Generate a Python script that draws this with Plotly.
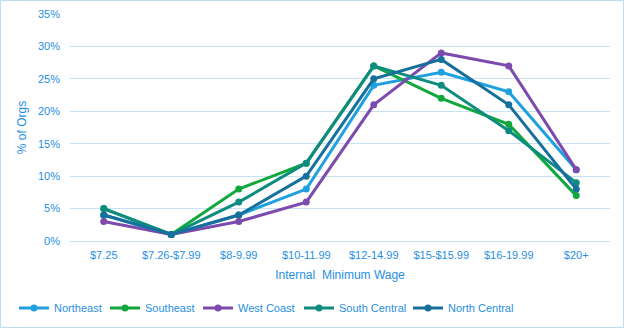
import plotly.graph_objects as go

categories = ["$7.25", "$7.26-$7.99", "$8-9.99", "$10-11.99", "$12-14.99", "$15-$15.99", "$16-19.99", "$20+"]
northeast = [4, 1, 4, 8, 24, 26, 23, 11]
southeast = [5, 1, 8, 12, 27, 22, 18, 7]
west_coast = [3, 1, 3, 6, 21, 29, 27, 11]
south_central = [5, 1, 6, 12, 27, 24, 17, 9]
north_central = [4, 1, 4, 10, 25, 28, 21, 8]

series = [
    ("Northeast", northeast, "#1FA0DF"),
    ("Southeast", southeast, "#10A83C"),
    ("West Coast", west_coast, "#7D4AAE"),
    ("South Central", south_central, "#0E8C80"),
    ("North Central", north_central, "#176F9C"),
]
legend_text_x = [54, 145, 238, 339, 448]  # px where each legend label starts

text_color = "#1F8FE3"
grid_color = "#C7E2F6"

W, H = 624, 328
ml, mr, mt, mb = 70, 14, 14, 87
pw, ph = W - ml - mr, H - mt - mb

fig = go.Figure()
legends = {}
for i, (name, vals, col) in enumerate(series):
    lname = "legend" if i == 0 else f"legend{i+1}"
    fig.add_trace(go.Scatter(
        x=list(range(len(categories))), y=vals, name=name, mode="lines+markers",
        line=dict(color=col, width=3), marker=dict(color=col, size=7),
        legend=lname,
    ))
    legends[lname] = dict(
        orientation="h", x=(legend_text_x[i] - 40 - ml) / pw, xanchor="left",
        y=(ph + mt - 308) / ph, yanchor="middle",
        font=dict(size=11, color=text_color), bgcolor="rgba(0,0,0,0)",
    )

fig.update_layout(
    width=W, height=H,
    margin=dict(l=ml, r=mr, t=mt, b=mb, autoexpand=False),
    paper_bgcolor="white", plot_bgcolor="white",
    font=dict(family="Liberation Sans, Arial, sans-serif", size=11, color=text_color),
    showlegend=True,
    xaxis=dict(
        tickmode="array", tickvals=list(range(len(categories))), ticktext=categories,
        range=[-0.5, len(categories) - 0.5], showgrid=False, zeroline=False,
        showline=False, ticks="", tickfont=dict(size=11, color=text_color),
        ticklabelstandoff=6, automargin=False,
        title=dict(text="Internal  Minimum Wage", font=dict(size=12, color=text_color), standoff=10),
    ),
    yaxis=dict(
        range=[0, 35], dtick=5, ticksuffix="%", showgrid=True, gridcolor=grid_color,
        gridwidth=1, zeroline=True, zerolinecolor=grid_color, zerolinewidth=1,
        showline=False, ticks="", tickfont=dict(size=11, color=text_color),
        ticklabelstandoff=9, automargin=False,
        title=dict(text="% of Orgs", font=dict(size=12, color=text_color), standoff=8),
    ),
    **legends,
)

# outer chart border
fig.add_shape(type="rect", xref="paper", yref="paper",
              x0=(0.5 - ml) / pw, x1=(W - 0.5 - ml) / pw,
              y0=-(H - 0.5 - mt - ph) / ph, y1=1 + (mt - 0.5) / ph,
              line=dict(color="#BFDDF3", width=1), layer="below")

fig.write_html("out.html")
